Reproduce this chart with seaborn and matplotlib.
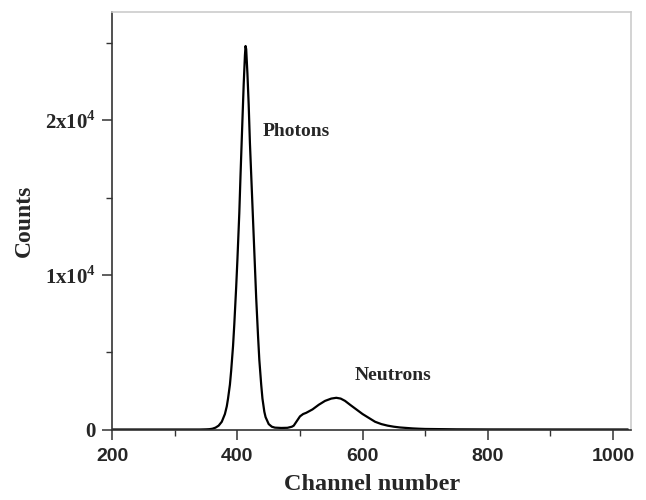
import matplotlib
matplotlib.use("Agg")
import matplotlib.pyplot as plt
import seaborn as sns
import pandas as pd
from matplotlib.ticker import MultipleLocator, FixedLocator

channels = [200, 300, 340, 350, 355, 360, 365, 370, 375, 380, 383, 385, 388, 390, 393,
            395, 398, 400, 403, 405, 408, 410, 412, 413, 414, 416, 418, 420, 423, 425,
            428, 430, 433, 435, 438, 440, 443, 445, 450, 455, 460, 470, 480, 487,
            490, 495, 500, 505, 510, 520, 530, 540, 550, 558, 565, 572, 580, 590,
            600, 610, 620, 630, 640, 650, 660, 670, 680, 690, 700, 750, 800, 900, 1024]
counts = [0, 0, 0, 10, 20, 50, 120, 250, 500, 1000, 1500, 2000, 2900, 3800, 5400,
          6800, 9200, 11000, 14000, 16500, 20000, 22300, 24200, 24800, 24600, 23000, 21000,
          18500, 15500, 13500, 10500, 8500, 6000, 4500, 2900, 2000, 1150, 800, 350, 180,
          120, 100, 110, 180,
          250, 550, 850, 1000, 1080, 1300, 1600, 1850, 2000, 2050, 2000, 1850, 1600, 1300,
          1000, 750, 500, 350, 250, 180, 130, 100, 70, 50, 35, 12, 5, 2, 0]

x_ticks = [200, 400, 600, 800, 1000]
y_ticks = [0, 10000, 20000]
y_tick_labels = ["0", r"1x10$^{\mathbf{4}}$", r"2x10$^{\mathbf{4}}$"]

df = pd.DataFrame({"Channel": channels, "Counts": counts})

sns.set_style("ticks")
plt.rcParams["mathtext.fontset"] = "custom"
plt.rcParams["mathtext.rm"] = "Liberation Serif"
plt.rcParams["mathtext.bf"] = "Liberation Serif:bold"

fig = plt.figure(figsize=(6.46, 5.00), dpi=100)
ax = fig.add_axes([0.1738, 0.141, 0.8030, 0.835])

sns.lineplot(data=df, x="Channel", y="Counts", ax=ax, color="black", linewidth=1.6)

ax.set_xlim(200, 1029)
ax.set_ylim(0, 27000)

ax.xaxis.set_major_locator(FixedLocator(x_ticks))
ax.xaxis.set_minor_locator(MultipleLocator(100))
ax.yaxis.set_major_locator(FixedLocator(y_ticks))
ax.yaxis.set_minor_locator(MultipleLocator(5000))
ax.set_yticklabels(y_tick_labels)

for lab in ax.get_xticklabels():
    lab.set_fontfamily("Liberation Sans")
    lab.set_fontweight("bold")
    lab.set_fontsize(14)
for lab in ax.get_yticklabels():
    lab.set_fontfamily("Liberation Serif")
    lab.set_fontweight("bold")
    lab.set_fontsize(15)

ax.tick_params(axis="both", which="major", direction="out", length=7, width=1.1,
               color="#333333", pad=5)
ax.tick_params(axis="both", which="minor", direction="out", length=4, width=1.0,
               color="#333333")
ax.tick_params(axis="x", which="major", pad=6)

ax.set_xlabel("Channel number", fontfamily="Liberation Serif", fontweight="bold",
              fontsize=17.5, labelpad=7)
ax.set_ylabel("Counts", fontfamily="Liberation Serif", fontweight="bold",
              fontsize=17, labelpad=7)

for side in ["left", "bottom"]:
    ax.spines[side].set_color("#333333")
    ax.spines[side].set_linewidth(1.2)
for side in ["top", "right"]:
    ax.spines[side].set_visible(True)
    ax.spines[side].set_color("#cccccc")
    ax.spines[side].set_linewidth(1.2)

ax.text(440, 19300, "Photons", fontfamily="Liberation Serif", fontweight="bold",
        fontsize=14, va="center", ha="left")
ax.text(587, 3520, "Neutrons", fontfamily="Liberation Serif", fontweight="bold",
        fontsize=14, va="center", ha="left")

fig.savefig("out.png", dpi=100)
